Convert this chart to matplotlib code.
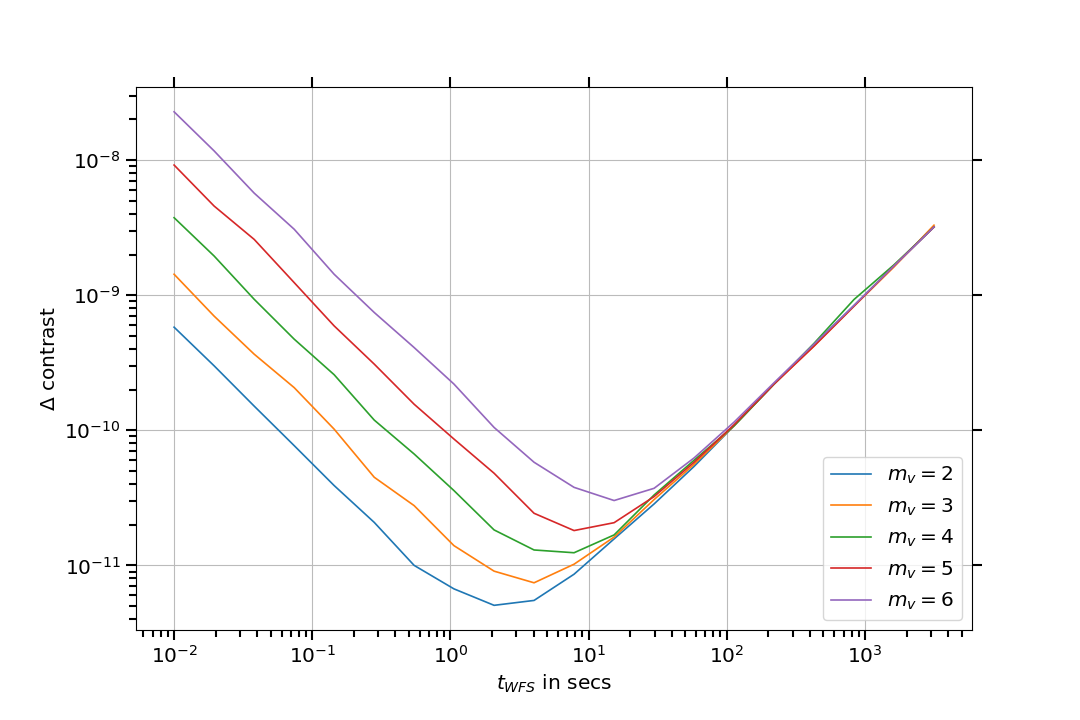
import matplotlib

matplotlib.use("Agg")
import matplotlib.pyplot as plt

# WFS integration time (s)
t_wfs = [0.01, 0.0195, 0.038, 0.074, 0.144, 0.281, 0.546, 1.06, 2.07, 4.03,
         7.85, 15.3, 29.8, 58.0, 113.0, 220.0, 428.0, 834.0, 1624.0, 3162.0]

# Delta contrast for each stellar magnitude m_v
contrast_mv2 = [5.8e-10, 3.0e-10, 1.51e-10, 7.7e-11, 3.9e-11, 2.08e-11, 1.0e-11, 6.7e-12,
                5.06e-12, 5.5e-12, 8.6e-12, 1.57e-11, 2.85e-11, 5.4e-11, 1.08e-10,
                2.2e-10, 4.3e-10, 8.4e-10, 1.65e-9, 3.2e-9]
contrast_mv3 = [1.43e-9, 7.0e-10, 3.66e-10, 2.07e-10, 1.02e-10, 4.49e-11, 2.77e-11, 1.40e-11,
                9.06e-12, 7.43e-12, 1.02e-11, 1.62e-11, 3.07e-11, 5.6e-11, 1.08e-10,
                2.2e-10, 4.2e-10, 8.3e-10, 1.62e-9, 3.3e-9]
contrast_mv4 = [3.75e-9, 1.95e-9, 9.33e-10, 4.73e-10, 2.58e-10, 1.19e-10, 6.68e-11, 3.58e-11,
                1.83e-11, 1.30e-11, 1.24e-11, 1.68e-11, 3.32e-11, 6.0e-11, 1.08e-10,
                2.2e-10, 4.4e-10, 9.3e-10, 1.68e-9, 3.2e-9]
contrast_mv5 = [9.2e-9, 4.57e-9, 2.59e-9, 1.24e-9, 5.93e-10, 3.09e-10, 1.56e-10, 8.62e-11,
                4.81e-11, 2.43e-11, 1.81e-11, 2.07e-11, 3.23e-11, 5.8e-11, 1.1e-10,
                2.2e-10, 4.2e-10, 8.3e-10, 1.65e-9, 3.2e-9]
contrast_mv6 = [2.28e-8, 1.17e-8, 5.7e-9, 3.08e-9, 1.43e-9, 7.45e-10, 4.1e-10, 2.2e-10,
                1.05e-10, 5.8e-11, 3.78e-11, 3.02e-11, 3.72e-11, 6.24e-11, 1.15e-10,
                2.25e-10, 4.35e-10, 8.4e-10, 1.65e-9, 3.2e-9]

magnitudes = [2, 3, 4, 5, 6]
series = [contrast_mv2, contrast_mv3, contrast_mv4, contrast_mv5, contrast_mv6]

plt.rcParams["font.size"] = 14.5

fig, ax = plt.subplots(figsize=(10.8, 7.2), dpi=100)
fig.subplots_adjust(left=0.126, right=0.9, top=0.879, bottom=0.125)

for mv, vals in zip(magnitudes, series):
    ax.loglog(t_wfs, vals, linewidth=1.2, label=f"$m_v = {mv}$")

ax.grid(True, which="major", color="#bbbbbb")
ax.tick_params(which="major", direction="out", length=7.5, width=1.5,
               top=True, right=True, labelsize=14.5)
ax.tick_params(which="minor", direction="out", length=4.8, width=1.5)

ax.set_xlabel("$t_{WFS}$ in secs", fontsize=14.5)
ax.set_ylabel(r"$\Delta$ contrast", fontsize=14.5)
ax.legend(loc="lower right", fontsize=14.5)

fig.savefig("out.png")
plt.close(fig)
